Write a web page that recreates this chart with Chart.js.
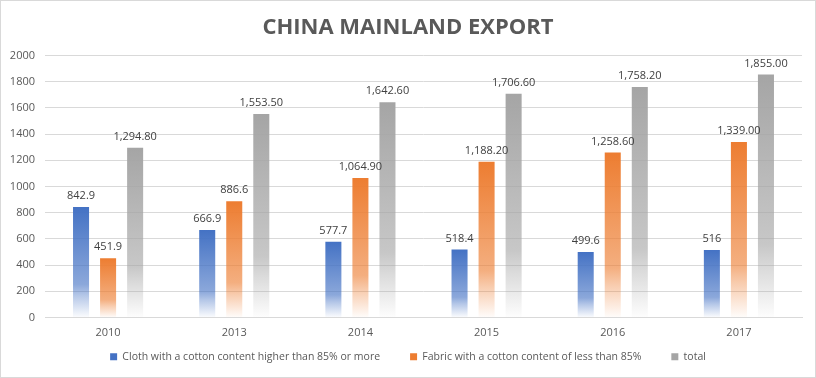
<!DOCTYPE html>
<html>
<head>
<meta charset="utf-8">
<script src="https://cdn.jsdelivr.net/npm/chart.js@4"></script>
<style>
  html, body { margin: 0; padding: 0; background: #fff; }
  #wrap { width: 816px; height: 378px; }
</style>
</head>
<body>
<div id="wrap"><canvas id="chart" width="816" height="378"></canvas></div>
<script>
// data
const years = ['2010', '2013', '2014', '2015', '2016', '2017'];
const clothValues = [842.9, 666.9, 577.7, 518.4, 499.6, 516];
const fabricValues = [451.9, 886.6, 1064.9, 1188.2, 1258.6, 1339.0];
const totalValues = [1294.8, 1553.5, 1642.6, 1706.6, 1758.2, 1855.0];
const seriesNames = [
    'Cloth with a cotton content higher than 85% or more',
    'Fabric with a cotton content of less than 85%',
    'total'
];
const yTicks = [0, 200, 400, 600, 800, 1000, 1200, 1400, 1600, 1800, 2000];

const baseColors = [[68, 114, 196], [237, 125, 49], [165, 165, 165]];
const textFont = "'Open Sans', sans-serif";

function rgba(c, a) {
    return 'rgba(' + c[0] + ',' + c[1] + ',' + c[2] + ',' + a + ')';
}

// bars fade out to white towards the bottom
function barFill(c) {
    return function (ctx) {
        if (ctx.type !== 'data') return rgba(c, 1);
        const chart = ctx.chart;
        if (!chart.chartArea || !chart.scales.y) return rgba(c, 1);
        const y = chart.scales.y;
        const top = y.getPixelForValue(ctx.raw);
        const bottom = y.getPixelForValue(0);
        const g = chart.ctx.createLinearGradient(0, top, 0, bottom);
        g.addColorStop(0, rgba(c, 1));
        g.addColorStop(0.7, rgba(c, 0.62));
        g.addColorStop(0.8, rgba(c, 0.4));
        g.addColorStop(1, rgba(c, 0.02));
        return g;
    };
}

function labelText(v) {
    if (v >= 1000) {
        return v.toLocaleString('en-US', { minimumFractionDigits: 2, maximumFractionDigits: 2 });
    }
    return String(v);
}

// value labels above the bars
const valueLabels = {
    id: 'valueLabels',
    afterDatasetsDraw(chart) {
        const c = chart.ctx;
        c.save();
        c.font = '11px ' + textFont;
        c.fillStyle = '#404040';
        c.textAlign = 'center';
        c.textBaseline = 'middle';
        chart.data.datasets.forEach((ds, i) => {
            chart.getDatasetMeta(i).data.forEach((bar, j) => {
                c.fillText(labelText(ds.data[j]), bar.x, bar.y - 11);
            });
        });
        c.restore();
    }
};

// white background + light frame
const frame = {
    id: 'frame',
    beforeDraw(chart) {
        const c = chart.ctx;
        c.save();
        c.fillStyle = '#fff';
        c.fillRect(0, 0, chart.width, chart.height);
        c.strokeStyle = '#d9d9d9';
        c.lineWidth = 1;
        c.strokeRect(0.5, 0.5, chart.width - 1, chart.height - 1);
        c.restore();
    }
};

const data = {
    labels: years,
    datasets: [clothValues, fabricValues, totalValues].map((vals, i) => ({
        label: seriesNames[i],
        data: vals,
        backgroundColor: barFill(baseColors[i]),
        borderWidth: 0,
        categoryPercentage: 0.643,
        barPercentage: 0.593
    }))
};

const config = {
    type: 'bar',
    data: data,
    plugins: [frame, valueLabels],
    options: {
        responsive: false,
        animation: false,
        layout: { padding: { left: 0, right: 0, top: 0, bottom: 6 } },
        plugins: {
            title: {
                display: true,
                text: 'CHINA MAINLAND EXPORT',
                color: '#595959',
                font: { family: "'Liberation Sans Narrow', 'Open Sans', sans-serif", size: 22, weight: 'bold' },
                padding: { top: 15, bottom: 14 }
            },
            legend: {
                position: 'bottom',
                labels: {
                    color: '#595959',
                    font: { family: textFont, size: 10.5 },
                    boxWidth: 7,
                    boxHeight: 7,
                    padding: 30,
                    generateLabels(chart) {
                        return chart.data.datasets.map((ds, i) => ({
                            text: ds.label,
                            fillStyle: rgba(baseColors[i], 1),
                            strokeStyle: rgba(baseColors[i], 1),
                            lineWidth: 0,
                            fontColor: '#595959',
                            datasetIndex: i
                        }));
                    }
                }
            },
            tooltip: { enabled: false }
        },
        scales: {
            x: {
                grid: { display: false, drawTicks: false },
                border: { color: '#d9d9d9' },
                // mirror + negative padding: labels sit below the axis without the scale
                // taking room from the legend (mirror also switches off label clipping)
                ticks: { color: '#595959', font: { family: textFont, size: 11 }, mirror: true, padding: -22 },
                afterFit(scale) { scale.height = 4; }
            },
            y: {
                min: 0,
                max: 2000,
                afterBuildTicks(scale) { scale.ticks = yTicks.map(v => ({ value: v })); },
                grid: { color: '#d9d9d9', drawTicks: false },
                border: { display: false },
                ticks: {
                    color: '#595959',
                    font: { family: textFont, size: 11 },
                    padding: 10,
                    callback: v => String(v)
                },
                afterFit(scale) { scale.width = 45; }
            },
            // empty strip on the right so the plot ends where the reference does
            rightGap: {
                position: 'right',
                grid: { display: false, drawTicks: false },
                border: { display: false },
                ticks: { display: false },
                afterFit(scale) { scale.width = 14; }
            }
        }
    }
};

const myChart = new Chart(document.getElementById('chart').getContext('2d'), config);
</script>
</body>
</html>
